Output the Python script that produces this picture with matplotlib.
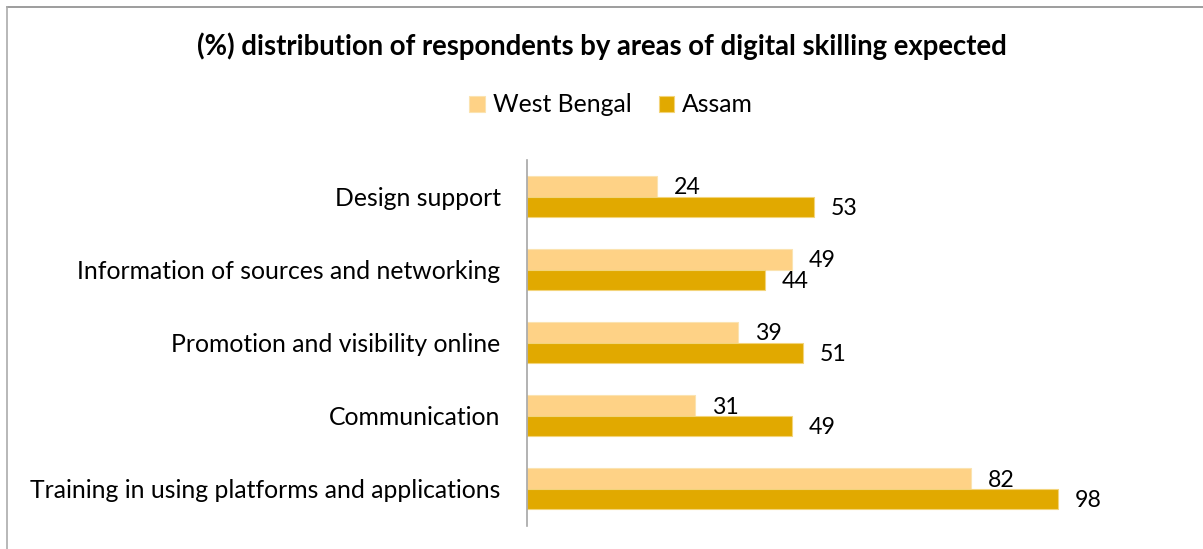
import matplotlib
matplotlib.use("Agg")
import matplotlib.pyplot as plt
import numpy as np

categories = [
    "Training in using platforms and applications",
    "Communication",
    "Promotion and visibility online",
    "Information of sources and networking",
    "Design support",
]
west_bengal = [82, 31, 39, 49, 24]
assam = [98, 49, 51, 44, 53]
series_names = ["West Bengal", "Assam"]
title = "(%) distribution of respondents by areas of digital skilling expected"

FONT = ["Lato", "DejaVu Sans"]
plt.rcParams["font.family"] = FONT

W, H = 1203, 549
fig = plt.figure(figsize=(W / 100, H / 100), dpi=100)

ax_left, ax_right = 527, 1150
ax_top, ax_bottom = 160, 525.5
ax = fig.add_axes([ax_left / W, 1 - ax_bottom / H,
                   (ax_right - ax_left) / W, (ax_bottom - ax_top) / H])

y = np.arange(len(categories))
h = 0.28
c_wb = "#FED286"
c_as = "#E1A900"
b1 = ax.barh(y + h / 2, west_bengal, height=h, color=c_wb,
             edgecolor="#FBE3B0", linewidth=0.8, label=series_names[0])
b2 = ax.barh(y - h / 2, assam, height=h, color=c_as,
             edgecolor="#F3D47A", linewidth=0.8, label=series_names[1])

for bars in (b1, b2):
    for rect in bars:
        v = rect.get_width()
        ax.annotate(f"{v:g}", (v, rect.get_y() + rect.get_height() / 2),
                    xytext=(12, -1), textcoords="offset points",
                    ha="left", va="center", fontsize=16.7, color="#000000")

ax.set_xlim(0, 115)
ax.set_ylim(-0.5, len(categories) - 0.5)
ax.set_yticks(y)
ax.set_yticklabels(categories, fontsize=17.8)
ax.tick_params(axis="y", length=0, pad=19)
ax.set_xticks([])
for s in ("top", "right", "bottom"):
    ax.spines[s].set_visible(False)
ax.spines["left"].set_color("#A6A6A6")
ax.spines["left"].set_linewidth(1.2)

fig.text(602 / W, 1 - 46 / H, title, ha="center", va="center",
         fontsize=19.8, fontweight="bold", color="#000000")

fig.legend(handles=[b1, b2], labels=series_names, loc="center",
           bbox_to_anchor=(611 / W, 1 - 105 / H), ncol=2, frameon=False,
           fontsize=17.8, handlelength=0.62, handleheight=0.62,
           handletextpad=0.32, columnspacing=1.1)

# chart frame
fig.add_artist(plt.Line2D([7 / W, 1], [1 - 6.5 / H, 1 - 6.5 / H],
                          transform=fig.transFigure, color="#8C8C8C", lw=1.2))
fig.add_artist(plt.Line2D([7 / W, 7 / W], [0, 1 - 6.5 / H],
                          transform=fig.transFigure, color="#ABABAB", lw=1.2))

fig.savefig("out.png", dpi=100)
